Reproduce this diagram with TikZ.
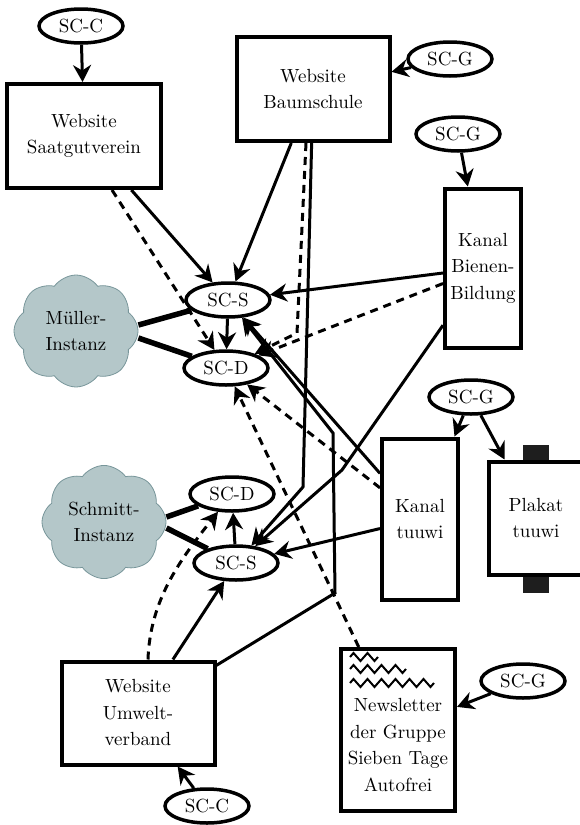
\documentclass[tikz,border=0pt]{standalone}
\usepackage{fontspec}
\setmainfont{lmroman10-regular.otf}
\usetikzlibrary{shapes.geometric,shapes.symbols,arrows.meta,decorations.pathmorphing}
\definecolor{cloudfill}{RGB}{180,199,201}
\definecolor{clouddraw}{RGB}{120,150,154}
\definecolor{tabfill}{RGB}{30,30,30}
\begin{document}
\begin{tikzpicture}[x=1pt,y=-1pt,
    font=\fontsize{19}{26.5}\selectfont,
    box/.style={draw,line width=4pt,align=center,inner sep=0pt},
    tag/.style={draw,ellipse,line width=3.5pt,fill=white,inner sep=0pt,minimum width=84pt,minimum height=34pt},
    inst/.style={cloud,cloud puffs=8,cloud puff arc=110,fill=cloudfill,draw=clouddraw,line width=0.8pt,align=center,inner sep=0pt,minimum width=124pt,minimum height=112pt},
    arr/.style={line width=3pt,-{Stealth[length=17pt,width=18pt]}},
    darr/.style={arr,dash pattern=on 8pt off 6pt},
    link/.style={line width=5.5pt},
    wave/.style={line width=2pt,decorate,decoration={zigzag,segment length=14pt,amplitude=4pt}}]
            \useasboundingbox (0,0) rectangle (579,825);
            \node[tag] (sccA) at (81,26) {SC-C};
            \node[box,minimum width=154pt,minimum height=104pt] (saat) at (84,136) {Website\\Saatgutverein};
            \node[box,minimum width=153pt,minimum height=104pt] (baum) at (313,89) {Website\\Baumschule};
            \node[tag] (scgA) at (450,59) {SC-G};
            \node[tag] (scgB) at (458,134) {SC-G};
            \node[box,minimum width=76pt,minimum height=159pt] (biene) at (483,268) {Kanal\\Bienen-\\Bildung};
            \node[inst] (mueller) at (76,331) {Müller-\\Instanz};
            \node[tag] (scsA) at (228,300) {SC-S};
            \node[tag] (scdA) at (226,368) {SC-D};
            \node[tag] (scgC) at (471,397) {SC-G};
            \node[box,minimum width=76pt,minimum height=161pt] (kanal) at (420,519) {Kanal\\tuuwi};
            \fill[tabfill] ([xshift=-13pt]536,461) rectangle ([xshift=13pt]536,445);
            \fill[tabfill] ([xshift=-13pt]536,575) rectangle ([xshift=13pt]536,593);
            \node[box,minimum width=95pt,minimum height=113pt] (plakat) at (536,518) {Plakat\\tuuwi};
            \node[inst] (schmitt) at (104,522) {Schmitt-\\Instanz};
            \node[tag] (scdB) at (232,494) {SC-D};
            \node[tag] (scsB) at (236,563) {SC-S};
            \node[box,minimum width=153pt,minimum height=103pt] (umwelt) at (138,713) {Website\\Umwelt-\\verband};
            \node[tag] (sccB) at (207,806) {SC-C};
            \node[box,minimum width=114pt,minimum height=162pt] (news) at (398,730) {};
            \node[align=center,inner sep=0pt] (newstxt) at (398,745) {Newsletter\\der Gruppe\\Sieben Tage\\Autofrei};
            \node[tag] (scgD) at (523,681) {SC-G};
            \draw[wave] ([shift={(11pt,-10pt)}]news.north west) -- ++(28,0);
            \draw[wave] ([shift={(11pt,-22pt)}]news.north west) -- ++(56,0);
            \draw[wave] ([shift={(11pt,-36pt)}]news.north west) -- ++(84,0);
            \draw[arr] (sccA) -- (saat);
            \draw[arr] (scgA) -- (baum);
            \draw[arr] (scgB) -- (biene);
            \draw[arr] (scgC) -- (kanal);
            \draw[arr] (scgC) -- (plakat);
            \draw[arr] (scgD) -- (news);
            \draw[arr] (sccB) -- (umwelt);
            \draw[arr] (saat) -- (scsA);
            \draw[darr] ([xshift=28pt]saat.south) -- (scdA);
            \draw[arr] (baum) -- (scsA);
            \draw[arr] (baum) -- (303,487) -- (scsB);
            \draw[darr] ([xshift=-7pt]baum.south) -- (297,333) -- (scdA);
            \draw[arr] (biene) -- (scsA);
            \draw[darr] (biene) -- (scdA);
            \draw[arr] (biene) -- (342,470) -- (scsB);
            \draw[arr] (kanal) -- (scsA);
            \draw[darr] (kanal) -- (scdA);
            \draw[arr] (kanal) -- (scsB);
            \draw[darr] (news) -- (scdA);
            \draw[arr] (umwelt) -- (335,593) -- (333,433) -- (scsA);
            \draw[arr] (umwelt) -- (scsB);
            \draw[darr] ([xshift=10pt]umwelt.north) .. controls (150,600) and (180,560) .. (scdB);
            \draw[arr] (scsA) -- (scdA);
            \draw[arr] (scsB) -- (scdB);
            \draw[link] ([yshift=6pt]mueller.east) -- (scsA);
            \draw[link] ([yshift=-7pt]mueller.east) -- (scdA);
            \draw[link] ([yshift=5pt]schmitt.east) -- (scdB);
            \draw[link] ([yshift=-6pt]schmitt.east) -- (scsB);
         \end{tikzpicture}
\end{document}
